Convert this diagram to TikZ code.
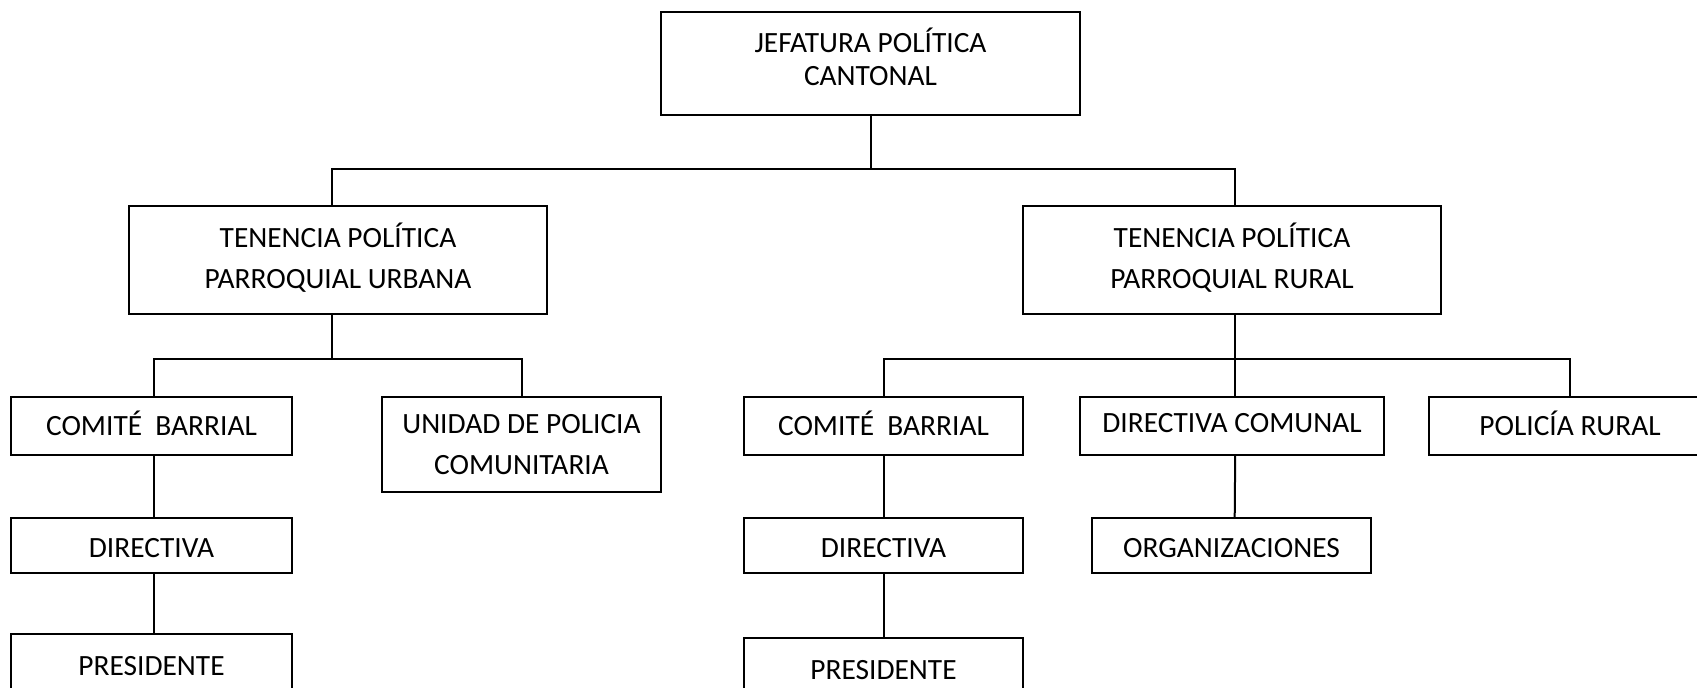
\documentclass[tikz,border=0pt]{standalone}
\usepackage{fontspec}
\setmainfont{Carlito}
\usepackage{tikz}

\begin{document}
\begin{tikzpicture}[x=0.5pt,y=-0.5pt,
		caja/.style={draw,line width=1pt,inner sep=0pt,align=center,
			font=\fontsize{14.7}{20.5}\selectfont},
		arriba/.style={text depth=3.2pt},
		abajo/.style={text height=12.5pt},
		linea/.style={line width=1pt}]
		\useasboundingbox (0,0) rectangle (1697,688);
		% Jefatura
		\node [caja,minimum width=209.5pt,minimum height=51.5pt,text depth=6.4pt,
			font=\fontsize{14.7}{16.5}\selectfont] (jefe) at (870.5,63.5) {JEFATURA POLÍTICA\\CANTONAL};
		
		% Tenencias
		\node [caja,minimum width=209pt,minimum height=54pt,text depth=4.6pt] (urbana) at (338,260) {TENENCIA POLÍTICA\\PARROQUIAL URBANA};
		\node [caja,minimum width=209pt,minimum height=54pt,text depth=4.6pt] (rural) at (1232,260) {TENENCIA POLÍTICA\\PARROQUIAL RURAL};
		
		% Rama urbana
		\node [caja,arriba,minimum width=140.5pt,minimum height=29pt] (comiteU) at (151.5,426) {COMITÉ~~BARRIAL};
		\node [caja,minimum width=139.5pt,minimum height=47.5pt] (unidad) at (521.5,444.5) {UNIDAD DE POLICIA\\COMUNITARIA};
		\node [caja,abajo,minimum width=140.5pt,minimum height=27.5pt] (directivaU) at (151.5,545.5) {DIRECTIVA};
		\node [caja,abajo,minimum width=140.5pt,minimum height=29pt] (presidenteU) at (151.5,663) {PRESIDENTE};
		
		% Rama rural
		\node [caja,arriba,minimum width=139.5pt,minimum height=29pt] (comiteR) at (883.5,426) {COMITÉ~~BARRIAL};
		\node [caja,arriba,minimum width=152pt,minimum height=29pt] (comunal) at (1232,426) {DIRECTIVA COMUNAL};
		\node [caja,arriba,minimum width=141pt,minimum height=29pt] (policia) at (1570,426) {POLICÍA RURAL};
		\node [caja,abajo,minimum width=139.5pt,minimum height=27.5pt] (directivaR) at (883.5,545.5) {DIRECTIVA};
		\node [caja,abajo,minimum width=139.5pt,minimum height=27.5pt] (organiz) at (1231.5,545.5) {ORGANIZACIONES};
		\node [caja,abajo,minimum width=139.5pt,minimum height=29pt] (presidenteR) at (883.5,667) {PRESIDENTE};
		
		% Conexiones
		\draw [linea] (jefe.south) -- ++(0,53) -| ([xshift=-3.25pt]urbana.north);
		\draw [linea] (jefe.south) ++(0,53) -| ([xshift=1.6pt]rural.north);
		\draw [linea] ([xshift=-3.25pt]urbana.south) -- ++(0,44) -| ([xshift=1.35pt]comiteU.north);
		\draw [linea] ([xshift=-3.25pt]urbana.south) ++(0,44) -| (unidad.north);
		\draw [linea] ([xshift=1.35pt]comiteU.south) -- ([xshift=1.35pt]directivaU.north);
		\draw [linea] ([xshift=1.35pt]directivaU.south) -- ([xshift=1.35pt]presidenteU.north);
		\draw [linea] ([xshift=1.6pt]rural.south) -- ++(0,44) -| (comiteR.north);
		\draw [linea] ([xshift=1.6pt]rural.south) ++(0,44) -| (policia.north);
		\draw [linea] ([xshift=1.6pt]rural.south) -- ([xshift=1.6pt]comunal.north);
		\draw [linea] (comiteR) -- (directivaR);
		\draw [linea] (directivaR) -- (presidenteR);
		\draw [linea] ([xshift=1.6pt]comunal.south) -- ([xshift=1.6pt]organiz.north);
	\end{tikzpicture}
\end{document}
